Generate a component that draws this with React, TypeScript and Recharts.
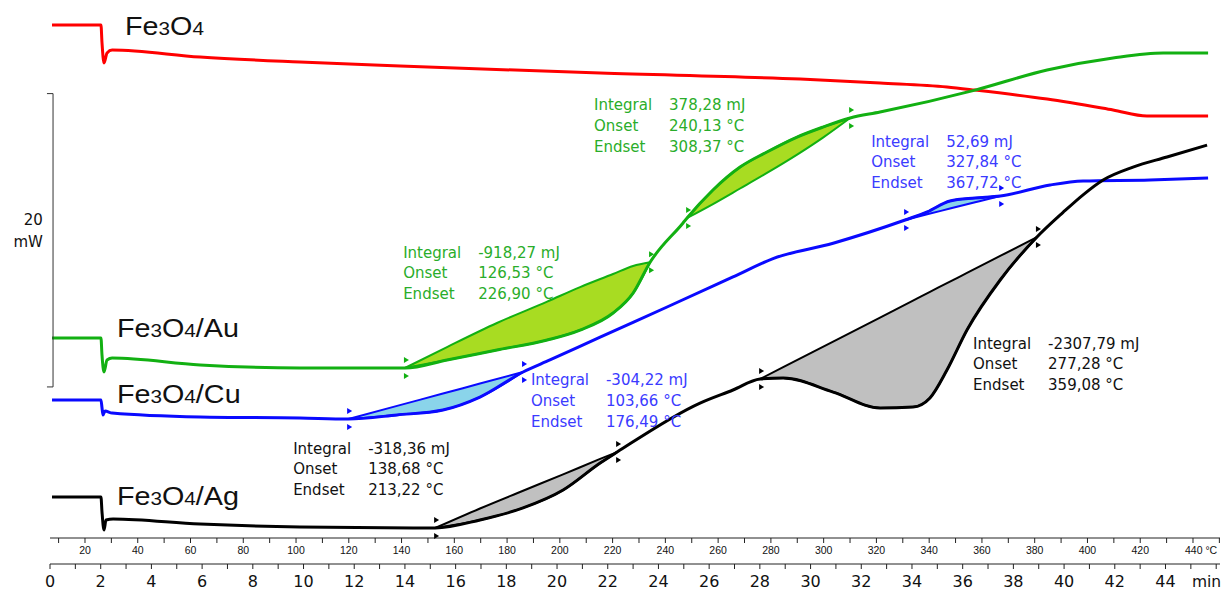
import React from 'react';
import { ComposedChart, Line, Area, XAxis, YAxis, ReferenceLine, ReferenceDot } from 'recharts';

// ---- traces: time (min) and heat flow (mW, traces offset as in the figure) ----
const fe3o4T = [0.08, 2.01, 2.05, 2.13, 2.25, 2.45, 5.92, 9.86, 13.81, 21.70, 29.59, 32.74, 35.38, 36.49, 39.33, 41.93, 43.27, 45.68];
const fe3o4Y = [34.98, 34.98, 33.8, 32.39, 33.07, 33.27, 32.79, 32.45, 32.18, 31.70, 31.29, 31.02, 30.75, 30.54, 29.93, 29.18, 28.77, 28.77];

const auT = [0.08, 2.01, 2.05, 2.13, 2.25, 2.45, 5.92, 9.86, 14.00, 15.66, 17.63, 19.61, 20.91, 22.21, 23.00, 23.67, 24.97, 25.13, 26.15, 27.22, 28.28, 29.47, 30.49, 31.56, 32.74, 36.49, 39.33, 41.93, 43.91, 45.68];
const auY = [13.64, 13.64, 12.5, 11.32, 12.14, 12.27, 11.80, 11.59, 11.59, 12.14, 12.82, 13.50, 14.18, 15.34, 16.70, 18.80, 21.48, 21.82, 23.73, 25.29, 26.32, 27.34, 28.02, 28.64, 29.04, 30.54, 31.91, 32.73, 33.07, 33.07];

const cuT = [0.08, 2.01, 2.05, 2.09, 2.17, 2.45, 5.92, 9.86, 11.76, 13.69, 15.50, 16.96, 18.66, 19.72, 21.70, 24.34, 26.94, 28.52, 30.89, 33.73, 34.60, 35.50, 36.49, 37.48, 39.45, 40.75, 43.39, 45.68];
const cuY = [9.41, 9.41, 8.9, 8.39, 8.66, 8.52, 8.25, 8.18, 8.11, 8.39, 8.73, 9.61, 11.32, 12.14, 13.70, 15.75, 17.80, 19.05, 20.10, 21.68, 22.23, 22.98, 23.18, 23.32, 24.07, 24.34, 24.41, 24.55];

const agT = [0.08, 2.01, 2.05, 2.13, 2.21, 2.49, 5.92, 9.86, 15.19, 16.96, 18.66, 20.24, 21.70, 22.37, 25.64, 26.94, 28.01, 28.92, 30.89, 32.74, 34.04, 34.71, 35.38, 36.17, 37.48, 38.93, 39.96, 40.75, 41.54, 42.72, 44.06, 45.64];
const agY = [2.80, 2.80, 1.8, 0.55, 1.23, 1.30, 0.95, 0.75, 0.68, 1.23, 2.05, 3.27, 5.11, 5.86, 9.20, 10.09, 10.84, 10.91, 9.95, 8.86, 8.93, 9.55, 11.45, 14.18, 17.59, 20.52, 22.20, 23.40, 24.41, 25.29, 25.98, 26.79];

// ---- peak integration baselines (first index in trace + baseline values) ----
const auPeak1Start = 8;
const auPeak1Base = [11.59, 13.02, 14.66, 16.12, 17.11, 18.00, 18.55, 18.80];
const auPeak2Start = 17;
const auPeak2Base = [21.82, 22.77, 23.83, 24.89, 26.14, 27.30, 28.64];
const cuPeak1Start = 8;
const cuPeak1Base = [8.11, 9.01, 9.85, 10.53, 11.32];
const cuPeak2Start = 19;
const cuPeak2Base = [21.68, 22.07, 22.46, 22.89, 23.32];
const agPeak1Start = 8;
const agPeak1Base = [0.68, 2.01, 3.22, 4.34, 5.39, 5.86];
const agPeak2Start = 16;
const agPeak2Base = [10.84, 11.65, 13.39, 15.03, 16.19, 16.78, 17.38, 18.07, 19.23, 20.52];

// ---- annotations ----
const sampleNames = ['Fe3O4', 'Fe3O4/Au', 'Fe3O4/Cu', 'Fe3O4/Ag'];
const sampleLabelT = [2.96, 2.64, 2.64, 2.64];
const sampleLabelY = [34.30, 13.70, 9.20, 2.25];

const peakIntegrals = ['-918,27 mJ', '378,28 mJ', '52,69 mJ', '-304,22 mJ', '-318,36 mJ', '-2307,79 mJ'];
const peakOnsets = ['126,53 °C', '240,13 °C', '327,84 °C', '103,66 °C', '138,68 °C', '277,28 °C'];
const peakEndsets = ['226,90 °C', '308,37 °C', '367,72 °C', '176,49 °C', '213,22 °C', '359,08 °C'];
const peakLabelT = [13.93, 21.46, 32.39, 18.97, 9.59, 36.41];
const peakLabelY = [19.12, 29.15, 26.69, 10.40, 5.76, 12.92];
const peakSample = [1, 1, 2, 2, 3, 3];

// temperature programme: 20 °C at t20, heating rate in K/min
const t20 = 1.38;
const heatingRate = 9.61;
const scaleBarMW = 20;
const scaleBarBottom = 10.3;

const T_MAX = 46.15;
const Y_MAX = 36;
const timeTicks = Array.from({ length: 47 }, (_, i) => i);
const tempTicks = Array.from({ length: 45 }, (_, i) => 10 + i * 10);
const tempAt = (t: number) => 20 + (t - t20) * heatingRate;

// ---- styles ----
const lineColors = ['#ff0000', '#12b012', '#0a0aff', '#000000'];
const fillColors = ['', '#a8dc22', '#8ad4ea', '#c0c0c0'];
const textColors = ['#111', '#2aad2a', '#3b3bff', '#111'];
const FONT = "'DejaVu Sans', Verdana, sans-serif";

const toData = (ts: number[], ys: number[]) => ts.map((t, i) => ({ t, y: ys[i] }));
const peakData = (ts: number[], ys: number[], start: number, base: number[]) =>
  base.map((b, i) => ({ t: ts[start + i], range: [b, ys[start + i]] }));

const traces = [
  toData(fe3o4T, fe3o4Y),
  toData(auT, auY),
  toData(cuT, cuY),
  toData(agT, agY),
];

const peakDefs = [
  { s: 1, ts: auT, ys: auY, start: auPeak1Start, base: auPeak1Base },
  { s: 1, ts: auT, ys: auY, start: auPeak2Start, base: auPeak2Base },
  { s: 2, ts: cuT, ys: cuY, start: cuPeak1Start, base: cuPeak1Base },
  { s: 2, ts: cuT, ys: cuY, start: cuPeak2Start, base: cuPeak2Base },
  { s: 3, ts: agT, ys: agY, start: agPeak1Start, base: agPeak1Base },
  { s: 3, ts: agT, ys: agY, start: agPeak2Start, base: agPeak2Base },
];
const peaks = peakDefs.map((p) => ({ s: p.s, data: peakData(p.ts, p.ys, p.start, p.base) }));
const peakEnds = peakDefs.flatMap((p) => [
  { s: p.s, t: p.ts[p.start], y: p.ys[p.start] },
  { s: p.s, t: p.ts[p.start + p.base.length - 1], y: p.ys[p.start + p.base.length - 1] },
]);

const tempData = [{ T: tempAt(0), y: 0 }, { T: tempAt(T_MAX), y: 0 }];

const formula = (name: string) =>
  name.split('').map((ch, i) =>
    /[0-9]/.test(ch) ? (
      <tspan key={i} fontSize={18}>{ch}</tspan>
    ) : (
      <tspan key={i}>{ch}</tspan>
    )
  );

const TimeTick = (props: any) => {
  const { x, y, payload } = props;
  const v = payload.value;
  if (v === 46) {
    return (
      <text x={x + 5} y={y} dy="0.71em" textAnchor="end" fontFamily={FONT} fontSize={15.5} fill="#111">min</text>
    );
  }
  if (v % 2 !== 0) return <g />;
  return (
    <text x={x} y={y} dy="0.71em" textAnchor="middle" fontFamily={FONT} fontSize={16} fill="#111">{v}</text>
  );
};

const TempTick = (props: any) => {
  const { x, y, payload } = props;
  const v = payload.value;
  if (v % 20 !== 0 || v > 440) return <g />;
  const NARROW = "'Liberation Sans Narrow', 'Liberation Sans', Arial, sans-serif";
  if (v === 440) {
    return (
      <text x={x - 8} y={y} dy="0.71em" textAnchor="start" fontFamily={NARROW} fontSize={10.5} fill="#111">440 °C</text>
    );
  }
  return (
    <text x={x} y={y} dy="0.71em" textAnchor="middle" fontFamily={NARROW} fontSize={10.5} fill="#111">{v}</text>
  );
};

const SampleLabel = (props: any) => {
  const { viewBox, name } = props;
  return (
    <text
      transform={`translate(${viewBox.x},${viewBox.y}) scale(1.15,1)`}
      x={0}
      y={0}
      fontFamily="'Liberation Sans', Arial, sans-serif"
      fontSize={25}
      fill="#111"
    >
      {formula(name)}
    </text>
  );
};

const PeakLabel = (props: any) => {
  const { viewBox, idx } = props;
  const c = textColors[peakSample[idx]];
  const x = viewBox.x;
  const y = viewBox.y;
  const rows = [
    ['Integral', peakIntegrals[idx]],
    ['Onset', peakOnsets[idx]],
    ['Endset', peakEndsets[idx]],
  ];
  return (
    <g>
      {rows.map((r, i) => (
        <g key={i}>
          <text x={x} y={y + i * 20.7} fontFamily={FONT} fontSize={15} fill={c}>{r[0]}</text>
          <text x={x + 75} y={y + i * 20.7} fontFamily={FONT} fontSize={15} fill={c}>{r[1]}</text>
        </g>
      ))}
    </g>
  );
};

const ScaleLabel = (props: any) => {
  const { viewBox } = props;
  return (
    <g>
      <text x={viewBox.x} y={viewBox.y - 6} textAnchor="end" fontFamily={FONT} fontSize={15} fill="#111">{scaleBarMW}</text>
      <text x={viewBox.x} y={viewBox.y + 16} textAnchor="end" fontFamily={FONT} fontSize={15} fill="#111">mW</text>
    </g>
  );
};

const EndMarker = (color: string) => (props: any) => {
  const { cx, cy } = props;
  if (cx == null || cy == null) return <g />;
  return (
    <g fill={color} stroke="none">
      <path d={`M${cx - 1},${cy - 11} L${cx + 4},${cy - 8} L${cx - 1},${cy - 5} Z`} />
      <path d={`M${cx - 1},${cy + 5} L${cx + 4},${cy + 8} L${cx - 1},${cy + 11} Z`} />
    </g>
  );
};

export default function App() {
  return (
    <div style={{ padding: '8px 0 0 8px', width: 1216, height: 583 }}>
      <style>{'body{margin:0}'}</style>
      <ComposedChart width={1216} height={583} margin={{ top: 2, right: 4, bottom: 0, left: 42 }}>
        <XAxis
          xAxisId="temp"
          type="number"
          dataKey="T"
          domain={[tempAt(0), tempAt(T_MAX)]}
          ticks={tempTicks}
          interval={0}
          allowDataOverflow
          height={26}
          tickSize={5}
          tickMargin={4}
          stroke="#222"
          tick={(p: any) => <TempTick {...p} />}
        />
        <XAxis
          xAxisId="time"
          type="number"
          dataKey="t"
          domain={[0, T_MAX]}
          ticks={timeTicks}
          interval={0}
          allowDataOverflow
          height={27}
          tickSize={5}
          tickMargin={7}
          stroke="#222"
          tick={(p: any) => <TimeTick {...p} />}
        />
        <YAxis hide type="number" domain={[0, Y_MAX]} allowDataOverflow />

        <Line xAxisId="temp" data={tempData} dataKey="y" stroke="none" dot={false} activeDot={false} isAnimationActive={false} />

        {peaks.map((p, i) => (
          <Area
            key={'pk' + i}
            xAxisId="time"
            data={p.data}
            dataKey="range"
            type="monotone"
            stroke={lineColors[p.s]}
            strokeWidth={2}
            fill={fillColors[p.s]}
            fillOpacity={1}
            dot={false}
            activeDot={false}
            isAnimationActive={false}
          />
        ))}

        {traces.map((d, i) => (
          <Line
            key={'tr' + i}
            xAxisId="time"
            data={d}
            dataKey="y"
            type="monotone"
            stroke={lineColors[i]}
            strokeWidth={3}
            dot={false}
            activeDot={false}
            isAnimationActive={false}
          />
        ))}

        {peakEnds.map((m, i) => (
          <ReferenceDot key={'mk' + i} xAxisId="time" x={m.t} y={m.y} r={3} ifOverflow="visible"
            shape={EndMarker(lineColors[m.s])} />
        ))}

        <ReferenceLine xAxisId="time" ifOverflow="visible" stroke="#333" strokeWidth={1}
          segment={[{ x: 0.12, y: scaleBarBottom }, { x: 0.12, y: scaleBarBottom + scaleBarMW }]} />
        <ReferenceLine xAxisId="time" ifOverflow="visible" stroke="#333" strokeWidth={1}
          segment={[{ x: -0.12, y: scaleBarBottom }, { x: 0.12, y: scaleBarBottom }]} />
        <ReferenceLine xAxisId="time" ifOverflow="visible" stroke="#333" strokeWidth={1}
          segment={[{ x: -0.12, y: scaleBarBottom + scaleBarMW }, { x: 0.12, y: scaleBarBottom + scaleBarMW }]} />
        <ReferenceDot xAxisId="time" x={-0.28} y={scaleBarBottom + scaleBarMW / 2 + 0.6} r={0} fill="none" stroke="none"
          ifOverflow="visible" label={(p: any) => <ScaleLabel {...p} />} />

        {sampleNames.map((n, i) => (
          <ReferenceDot key={'sl' + i} xAxisId="time" x={sampleLabelT[i]} y={sampleLabelY[i]} r={0}
            fill="none" stroke="none" ifOverflow="visible"
            label={(p: any) => <SampleLabel {...p} name={n} />} />
        ))}

        {peakIntegrals.map((_, i) => (
          <ReferenceDot key={'pl' + i} xAxisId="time" x={peakLabelT[i]} y={peakLabelY[i]} r={0}
            fill="none" stroke="none" ifOverflow="visible"
            label={(p: any) => <PeakLabel {...p} idx={i} />} />
        ))}
      </ComposedChart>
    </div>
  );
}
